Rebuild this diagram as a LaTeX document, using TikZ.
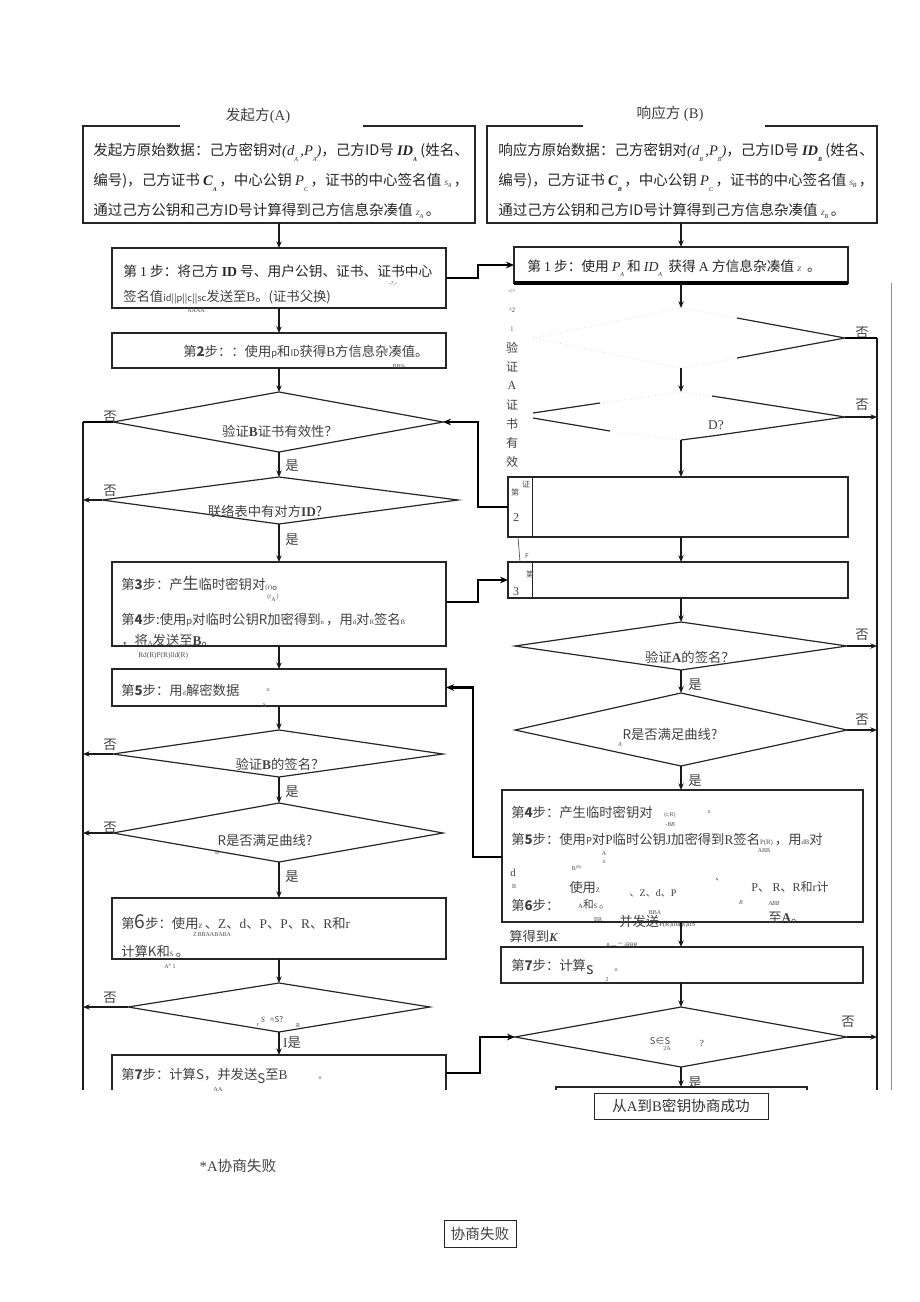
\documentclass[tikz,border=0pt]{standalone}
\usepackage{fontspec}
\setmainfont{Noto Sans CJK SC}
\newfontfamily\ser{Liberation Serif}
\usetikzlibrary{arrows.meta}
\newcommand\lo[1]{\raisebox{-0.9ex}{\fontsize{4.5}{5}\selectfont\ser #1}}
\newcommand\tn[1]{{\fontsize{5}{6}\selectfont\ser #1}}
\newcommand\sm[1]{{\fontsize{7}{8}\selectfont #1}}
\newcommand\sr[1]{{\ser #1}}
\begin{document}
\begin{tikzpicture}[x=0.75pt,y=-0.75pt,
 box/.style={draw=black!85,line width=0.9pt,inner sep=0pt,outer sep=0pt,anchor=north west},
 nobox/.style={inner sep=0pt,outer sep=0pt,anchor=north west},
 wh/.style 2 args={minimum width={#1*0.75pt},minimum height={#2*0.75pt}},
 txt/.style={inner sep=0pt,anchor=west,font=\fontsize{10.3}{12}\selectfont,text=black!85},
 ttop/.style={inner sep=0pt,anchor=west,font=\fontsize{10.9}{12}\selectfont,text=black!85},
 tsm/.style={inner sep=0pt,anchor=west,font=\fontsize{10}{12}\selectfont,text=black!75},
 lbl/.style={inner sep=0pt,font=\fontsize{10}{12}\selectfont,text=black!75},
 tiny/.style={inner sep=0pt,font=\fontsize{4.5}{5}\selectfont\ser,text=black!70},
 arr/.style={-{Stealth[length=5pt,width=4pt]},line width=0.9pt,black!90},
 thk/.style={line width=2.2pt,black},
 thka/.style={thk,-{Stealth[length=6pt,width=5pt]}},
 dia/.style={draw=black!85,line width=0.9pt},
 faint/.style={draw=black!15,line width=0.6pt,dotted},
]
\useasboundingbox (0,0) rectangle (920,1302);

% ---------------- top boxes ----------------
\node[nobox,wh={392}{97}] (A) at (83,126) {};
\draw[line width=0.9pt,black!85] (A.north west) ++(97,0) -- (A.north west) -- (A.south west) -- (A.south east) -- (A.north east) -- ++(-112,0);
\node[lbl,font=\fontsize{11}{12}\selectfont] (At) at (258,116) {发起方{\ser (A)}};
\node[ttop] (A1) at (93,152) {发起方原始数据：己方密钥对{\ser\itshape(d\lo{A}\,,P\lo{A})}，己方ID号 {\ser\itshape\bfseries ID\lo{A}} (姓名、};
\node[ttop] (A2) at (93,182) {编号)，己方证书 {\ser\itshape\bfseries C\lo{A}}\,，中心公钥 {\ser\itshape P\lo{C}}\,，证书的中心签名值 {\ser\itshape\tiny S\lo{A}}\,，};
\node[ttop] (A3) at (93,211) {通过己方公钥和己方ID号计算得到己方信息杂凑值 {\ser\itshape\tiny Z\lo{A}}\,。};

\node[nobox,wh={390}{97}] (B) at (487,126) {};
\draw[line width=0.9pt,black!85] (B.north west) ++(96,0) -- (B.north west) -- (B.south west) -- (B.south east) -- (B.north east) -- ++(-112,0);
\node[lbl,font=\fontsize{11}{12}\selectfont] (Bt) at (670,114) {响应方\ {\ser (B)}};
\node[ttop] (B1) at (498,152) {响应方原始数据：己方密钥对{\ser\itshape(d\lo{B}\,,P\lo{B})}，己方ID号 {\ser\itshape\bfseries ID\lo{B}} (姓名、};
\node[ttop] (B2) at (498,182) {编号)，己方证书 {\ser\itshape\bfseries C\lo{B}}\,，中心公钥 {\ser\itshape P\lo{C}}\,，证书的中心签名值 {\ser\itshape\tiny S\lo{B}}\,，};
\node[ttop] (B3) at (498,211) {通过己方公钥和己方ID号计算得到己方信息杂凑值 {\ser\itshape\tiny Z\lo{B}}\,。};

% ---------------- left column ----------------
\node[box,wh={334}{60}] (L1) at (112,248) {};
\node[txt] (L1a) at (123,271) {第 {\ser 1} 步：将己方 {\ser\bfseries ID} 号、用户公钥、证书、证书中心};
\node[tsm] (L1b) at (123,297) {签名值\sm{id||p||c||sc}发送至{\ser B}。(证书父换)};
\node[tiny] (L1c) at (196,311) {AAAA};
\node[tiny] (L1d) at (393,284) {-?,-};

\node[box,wh={334}{35}] (L2) at (112,333) {};
\node[tsm] (L2a) at (183,352) {第{\bfseries 2}步：：使用\sm{\itshape p}和\sm{\itshape ID}获得{\ser B}方信息杂凑值。};
\node[tiny] (L2b) at (399,367) {BB\%};

\coordinate (D1t) at (279,392); \coordinate (D1l) at (113,422);
\coordinate (D1r) at (443,422); \coordinate (D1b) at (279,452);
\draw[dia] (D1t) -- (D1r) -- (D1b) -- (D1l) -- cycle;
\node[lbl] (D1x) at (280,431) {验证{\ser\bfseries B}证书有效性？};
\node[lbl] (N1) at (110,417) {否};
\node[lbl] (Y1) at (292,466) {是};

\coordinate (D2t) at (279,477); \coordinate (D2l) at (102,500);
\coordinate (D2r) at (458,500); \coordinate (D2b) at (279,524);
\draw[dia] (D2t) -- (D2r) -- (D2b) -- (D2l) -- cycle;
\node[lbl] (D2x) at (265,511) {联络表中有对方{\ser\bfseries ID}?};
\node[lbl] (N2) at (110,491) {否};
\node[lbl] (Y2) at (292,540) {是};

\node[box,wh={334}{84}] (L3) at (112,562) {};
\node[tsm] (L3a) at (121,583) {第{\bfseries 3}步：产{\large 生}临时密钥对{\tn{(r)}}。};
\node[tiny] (L3b) at (273,598) {(r\lo{A}\,)};
\node[tsm] (L3c) at (121,620) {第{\bfseries 4}步:使用\sm{p}对临时公钥{\itshape R}加密得到\tn{n}\,，用\tn{d}对\tn{R}签名\tn{B}};
\node[tsm] (L3d) at (121,641) {，将\tn{A}发送至{\ser\bfseries B}。};
\node[tiny,anchor=west,font=\fontsize{5.5}{6}\selectfont\ser] (L3e) at (138,656) {Rd(R)P(R)lld(R)};

\node[box,wh={334}{37}] (L5) at (112,669) {};
\node[tsm] (L5a) at (121,690) {第{\bfseries 5}步：用\tn{d}解密数据};
\node[tiny] (L5b) at (268,690) {o};
\node[tiny] (L5c) at (264,706) {A};

\coordinate (D3t) at (279,730); \coordinate (D3l) at (113,754);
\coordinate (D3r) at (443,754); \coordinate (D3b) at (279,777);
\draw[dia] (D3t) -- (D3r) -- (D3b) -- (D3l) -- cycle;
\node[lbl] (D3x) at (280,764) {验证{\ser\bfseries B}的签名？};
\node[lbl] (N3) at (110,745) {否};
\node[lbl] (Y3) at (292,792) {是};

\coordinate (D4t) at (279,803); \coordinate (D4l) at (113,833);
\coordinate (D4r) at (443,833); \coordinate (D4b) at (279,862);
\draw[dia] (D4t) -- (D4r) -- (D4b) -- (D4l) -- cycle;
\node[lbl] (D4x) at (265,840) {R是否满足曲线?};
\node[tiny] (D4y) at (217,853) {B};
\node[lbl] (N4) at (110,828) {否};
\node[lbl] (Y4) at (292,877) {是};

\node[box,wh={334}{61}] (L6) at (112,898) {};
\node[tsm] (L6a) at (121,922) {第{\Large 6}步：使用\tn{Z}\,、\sr{Z}、\sr{d}、\sr{P}、\sr{P}、\sr{R}、\sr{R}和\sr{r}};
\node[tiny] (L6b) at (212,935) {Z\,BBAABABA};
\node[tsm] (L6c) at (121,951) {计算K和\tn{S}\,。};
\node[tiny] (L6d) at (170,966) {A\textsuperscript{S}\,1};

\coordinate (D5t) at (279,983); \coordinate (D5l) at (128,1007);
\coordinate (D5r) at (430,1007); \coordinate (D5b) at (279,1032);
\draw[dia] (D5t) -- (D5r) -- (D5b) -- (D5l) -- cycle;
\node[lbl,font=\fontsize{6}{7}\selectfont] (D5x) at (272,1019) {{\ser\itshape S}\ \ \ =S?};
\node[tiny] (D5y) at (258,1025) {r};
\node[tiny] (D5z) at (298,1026) {R};
\node[lbl] (N5) at (110,998) {否};
\node[lbl] (Y5) at (292,1043) {{\ser I}是};

\coordinate (L7nw) at (112,1055); \coordinate (L7ne) at (446,1055);
\coordinate (L7sw) at (112,1090); \coordinate (L7se) at (446,1090);
\draw[line width=0.9pt,black!85] (L7sw) -- (L7nw) -- (L7ne) -- (L7se);
\node[tsm] (L7a) at (121,1076) {第{\bfseries 7}步：计算S，并发送\raisebox{-0.5ex}{S}至{\ser B}};
\node[tiny] (L7b) at (320,1078) {o};
\node[tiny] (L7c) at (218,1090) {AA};

% left vertical arrows
\draw[arr] (A.south -| L1.north) -- (L1.north);
\draw[arr] (L1.south) -- (L2.north);
\draw[arr] (L2.south) -- (D1t);
\draw[arr] (D1b) -- (D2t);
\draw[arr] (D2b) -- (L3.north);
\draw[arr] (L3.south) -- (L5.north);
\draw[arr] (L5.south) -- (D3t);
\draw[arr] (D3b) -- (D4t);
\draw[arr] (D4b) -- (L6.north);
\draw[arr] (L6.south) -- (D5t);
\draw[arr] (D5b) -- (D5b |- L7nw);

% left failure line
\coordinate (FL1) at (83,422); \coordinate (FL2) at (83,1090);
\draw[line width=1.6pt,black!90] (FL1) -- (FL2);
\draw[line width=0.9pt] (D1l) -- (FL1);
\draw[arr] (D2l) -- (D2l -| FL1);
\draw[arr] (D3l) -- (D3l -| FL1);
\draw[arr] (D4l) -- (D4l -| FL1);
\draw[arr] (D5l) -- (D5l -| FL1);

% ---------------- right column ----------------
\node[box,wh={334}{36}] (R1) at (514,247) {};
\draw[line width=2.4pt] (R1.south west) -- (R1.south east);
\node[txt] (R1a) at (527,268) {第 {\ser 1} 步：使用 {\ser\itshape P\lo{A}} 和 {\ser\itshape ID\lo{A}}\ \ 获得 {\ser A} 方信息杂凑值 {\ser\itshape\tiny Z}\ \ 。};

\foreach \t [count=\i] in {{\tn{<\textasciicircum}},{\tn{\textasciicircum 2}},{\tn{l}},验,证,{\ser A},证,书,有,效}{
  \node[lbl,font=\fontsize{9}{10}\selectfont] (V\i) at (512,{272+\i*19}) {\t};
}

\coordinate (E1t) at (681,308); \coordinate (E1l) at (533,338);
\coordinate (E1r) at (845,338); \coordinate (E1b) at (681,368);
\draw[faint] (E1l) -- (E1t) -- (737,318);
\draw[faint] (E1l) -- (E1b) -- (737,358);
\draw[dia] (737,318) -- (E1r) -- (737,358);
\node[lbl] (NE1) at (862,333) {否};

\coordinate (E2t) at (681,392); \coordinate (E2l) at (533,415);
\coordinate (E2r) at (845,417); \coordinate (E2b) at (681,440);
\draw[faint] (600,403) -- (E2t) -- (712,396);
\draw[faint] (610,431) -- (E2b);
\draw[dia] (533,413) -- (600,403);
\draw[dia] (533,418) -- (610,431);
\draw[dia] (712,396) -- (E2r) -- (712,436) -- (681,440);
\node[lbl,font=\fontsize{10}{12}\selectfont\ser] (E2x) at (716,425) {D?};
\node[lbl] (NE2) at (862,405) {否};

\node[box,wh={340}{60}] (R2) at (508,477) {};
\node[box,wh={24}{60},line width=0.6pt] (R2s) at (508,477) {};
\node[tiny,font=\fontsize{6}{7}\selectfont] (R2a) at (515,492) {第};
\node[tiny,font=\fontsize{6}{7}\selectfont] (R2c) at (526,484) {证};
\node[lbl,font=\fontsize{9}{10}\selectfont\ser] (R2b) at (516,518) {2};

\node[box,wh={340}{36}] (R3) at (508,562) {};
\node[box,wh={24}{36},line width=0.6pt] (R3s) at (508,562) {};
\node[tiny,font=\fontsize{6}{7}\selectfont] (R3a) at (530,574) {第};
\node[lbl,font=\fontsize{9}{10}\selectfont\ser] (R3b) at (516,592) {3};
\node[tiny,font=\fontsize{5}{6}\selectfont] (R3c) at (527,556) {F};
\draw[line width=0.5pt,black!70] (R2s.south) ++(-2,0) -- (R2s.south |- R3s.north);

\coordinate (E3t) at (681,622); \coordinate (E3l) at (515,646);
\coordinate (E3r) at (847,646); \coordinate (E3b) at (681,670);
\draw[dia] (E3t) -- (E3r) -- (E3b) -- (E3l) -- cycle;
\node[lbl] (E3x) at (690,657) {验证{\ser\bfseries A}的签名？};
\node[lbl] (NE3) at (862,635) {否};
\node[lbl] (YE3) at (695,685) {是};

\coordinate (E4t) at (681,693); \coordinate (E4l) at (515,730);
\coordinate (E4r) at (847,730); \coordinate (E4b) at (681,766);
\draw[dia] (E4t) -- (E4r) -- (E4b) -- (E4l) -- cycle;
\node[lbl] (E4x) at (670,734) {{\itshape R}是否满足曲线?};
\node[tiny] (E4y) at (620,745) {\itshape A};
\node[lbl] (NE4) at (862,720) {否};
\node[lbl] (YE4) at (695,781) {是};

\node[box,wh={361}{132}] (R4) at (502,790) {};
\node[tsm] (R4a) at (511,812) {第{\bfseries 4}步：产生临时密钥对};
\node[tiny] (R4b) at (670,815) {(r,R)};
\node[tiny] (R4c) at (670,825) {\itshape -BB};
\node[tiny] (R4d) at (709,812) {o};
\node[tsm] (R4e) at (511,840) {第{\bfseries 5}步：使用{\sm P}对{\ser P}临时公钥{\ser J}加密得到{\ser R}签名\tn{P(R)}\,，用\tn{dB}对};
\node[tiny] (R4f) at (604,854) {A};
\node[tiny] (R4g) at (764,851) {ABB};
\node[tiny] (R4h) at (604,862) {o};
\node[lbl,font=\fontsize{8}{9}\selectfont\ser] (R4i) at (513,873) {d};
\node[tiny] (R4j) at (514,887) {B};
\node[tiny] (R4k) at (577,868) {B\textsuperscript{(R)}};
\node[tsm] (R4l) at (569,887) {使用\tn{Z}};
\node[lbl,font=\fontsize{7.5}{9}\selectfont] (R4m) at (653,893) {、\sr{Z}、\sr{d}、\sr{P}};
\node[lbl,font=\fontsize{7}{8}\selectfont] (R4n) at (720,880) {、};
\node[lbl,font=\fontsize{9}{10}\selectfont] (R4o) at (790,887) {\sr{P}、 \sr{R}、\sr{R}和\sr{r}计};
\node[tiny] (R4p) at (741,903) {\itshape B};
\node[tiny] (R4q) at (774,904) {\itshape ABB};
\node[tsm] (R4r) at (511,905) {第{\bfseries 6}步：};
\node[lbl,font=\fontsize{8}{9}\selectfont] (R4s) at (594,904) {\tn{A}和\tn{S}\,。};
\node[tiny] (R4t) at (655,913) {BBA};
\node[tiny] (R4u) at (598,920) {BR};
\node[tsm] (R4v) at (619,922) {并发送\tn{P(R)lld(R)llS}};
\node[tsm] (R4w) at (768,918) {至{\ser\bfseries A}。};
\node[tsm] (R4x) at (509,936) {算得到{\ser\bfseries\itshape\small K}};

\node[box,wh={362}{36}] (R7) at (501,947) {};
\node[tsm] (R7a) at (511,967) {第{\bfseries 7}步：计算{\large\raisebox{-0.4ex}{s}}};
\node[tiny] (R7b) at (607,980) {2};
\node[tiny] (R7c) at (616,970) {o};
\node[tiny,font=\fontsize{4.5}{5}\selectfont] (R7d) at (622,945) {A\,—\,二\,iRRR};

\coordinate (E5t) at (681,1007); \coordinate (E5l) at (515,1037);
\coordinate (E5r) at (847,1037); \coordinate (E5b) at (681,1067);
\draw[dia] (E5t) -- (E5r) -- (E5b) -- (E5l) -- cycle;
\node[lbl,font=\fontsize{7}{8}\selectfont] (E5x) at (660,1041) {S∈S};
\node[tiny] (E5y) at (667,1049) {2A};
\node[lbl,font=\fontsize{7}{8}\selectfont\ser] (E5z) at (702,1043) {?};
\node[lbl] (NE5) at (848,1022) {否};
\node[lbl] (YE5) at (695,1083) {是};

\coordinate (S1) at (556,1087); \coordinate (S2) at (807,1087);
\draw[line width=0.9pt,black!85] (S1 |- L7sw) -- (S1) -- (S2) -- (S2 |- L7sw);
\node[box,wh={174}{26},line width=0.6pt] (SUC) at (594,1093) {};
\node[lbl,font=\fontsize{11}{12}\selectfont,text=black!80] (SUCt) at (SUC.center) {从{\ser A}到{\ser B}密钥协商成功};

% right vertical arrows
\draw[arr] (B.south -| R1.north) -- (R1.north);
\draw[arr] (R1.south) -- (E1t);
\draw[arr] (E1b) -- (E2t);
\draw[arr] (E2b) -- (E2b |- R2.north);
\draw[arr] (E2b |- R2.south) -- (E2b |- R3.north);
\draw[arr] (E2b |- R3.south) -- (E3t);
\draw[arr] (E3b) -- (E4t);
\draw[arr] (E4b) -- (E4b |- R4.north);
\draw[arr] (E4b |- R4.south) -- (E4b |- R7.north);
\draw[arr] (E4b |- R7.south) -- (E5t);
\draw[arr] (E5b) -- (S1 -| E5b);

% right failure lines
\coordinate (FR1) at (877,338); \coordinate (FR2) at (877,1090);
\coordinate (FS1) at (891,283); \coordinate (FS2) at (891,1090);
\draw[line width=1.3pt,black!90] (FR1) -- (FR2);
\draw[line width=0.6pt,black!45] (FS1) -- (FS2);
\draw[line width=0.9pt] (E1r) -- (FR1);
\draw[arr] (E2r) -- (E2r -| FR1);
\draw[arr] (E3r) -- (E3r -| FR1);
\draw[arr] (E4r) -- (E4r -| FR1);
\draw[arr] (E5r) -- (E5r -| FR1);

% cross connectors
\draw[thka] (L1.east |- 0,278) -- (478,278) |- (R1.west);
\draw[thka] (R2.west |- 0,507) -- (478,507) |- (D1r);
\draw[thka] (L3.east |- 0,602) -- (478,602) |- (R3.west |- 0,580);
\draw[thka] (R4.west |- 0,857) -- (473,857) |- (L5.east);
\draw[thka] (L7ne |- 0,1073) -- (480,1073) |- (E5l);

% bottom texts
\node[lbl,font=\fontsize{11}{12}\selectfont] (AF) at (238,1166) {{\ser *A}协商失败};
\node[box,wh={72}{27},line width=0.6pt] (FB) at (444,1220) {};
\node[lbl,font=\fontsize{11}{12}\selectfont] (FBt) at (FB.center) {协商失败};
\end{tikzpicture}
\end{document}
